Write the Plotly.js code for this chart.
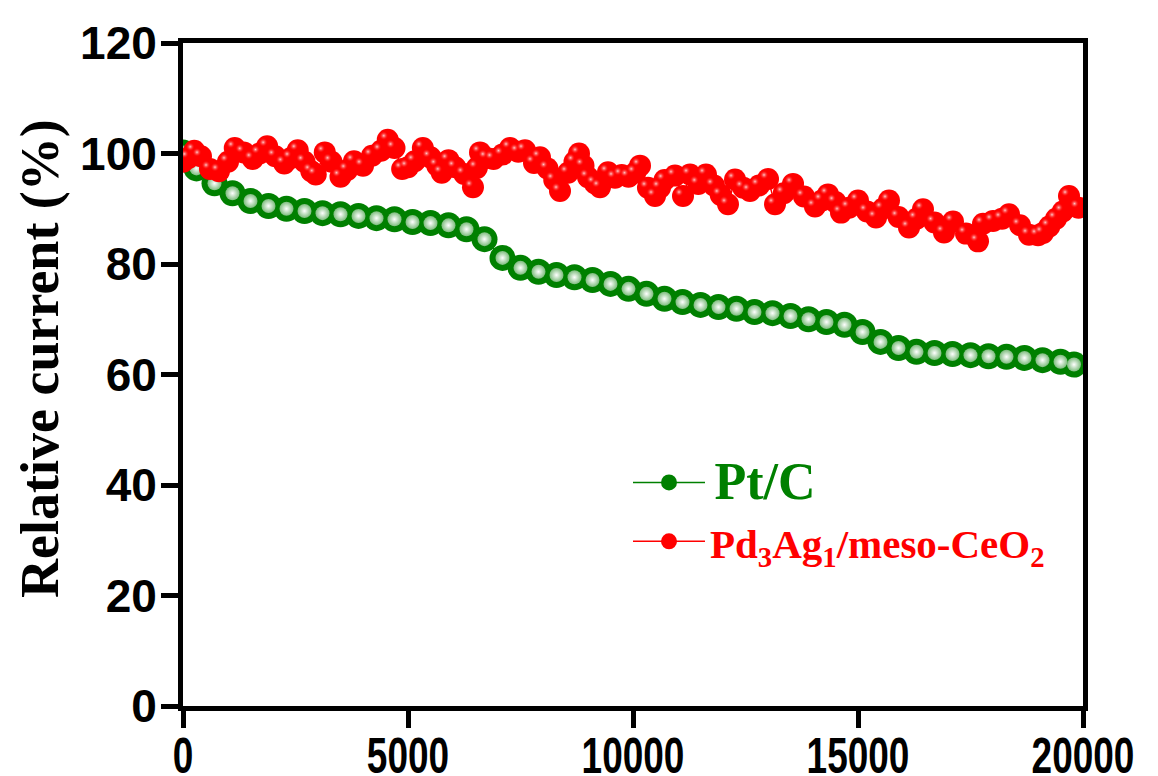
<!DOCTYPE html>
<html>
<head>
<meta charset="utf-8">
<script src="https://cdn.plot.ly/plotly-3.0.1.min.js"></script>
<style>
  html, body { margin: 0; padding: 0; background: #fff; }
  #chart { width: 1158px; height: 776px; }
</style>
</head>
<body>
<div id="chart"></div>
<script>
// ---- data ----
const ptName = 'Pt/C';
const pdName = 'Pd<sub>3</sub>Ag<sub>1</sub>/meso-CeO<sub>2</sub>';

const ptX = [0, 300, 700, 1100, 1500, 1900, 2300, 2700, 3100, 3500, 3900, 4300, 4700, 5100, 5500, 5900, 6300, 6700, 7100, 7500, 7900, 8300, 8700, 9100, 9500, 9900, 10300, 10700, 11100, 11500, 11900, 12300, 12700, 13100, 13500, 13900, 14300, 14700, 15100, 15500, 15900, 16300, 16700, 17100, 17500, 17900, 18300, 18700, 19100, 19500, 19800];
const ptY = [100.2, 97.3, 94.6, 92.8, 91.4, 90.5, 90.0, 89.6, 89.2, 89.0, 88.7, 88.3, 88.1, 87.6, 87.4, 87.0, 86.3, 84.5, 81.1, 79.3, 78.6, 78.0, 77.6, 77.1, 76.4, 75.5, 74.6, 73.7, 73.1, 72.6, 72.2, 71.9, 71.3, 71.1, 70.6, 70.0, 69.5, 69.0, 67.7, 65.9, 64.8, 64.1, 63.9, 63.7, 63.5, 63.3, 63.2, 63.0, 62.6, 62.3, 61.8];

const pdX = [0, 120, 250, 400, 600, 800, 1000, 1150, 1350, 1550, 1700, 1870, 2050, 2250, 2400, 2550, 2700, 2850, 2950, 3150, 3300, 3500, 3650, 3800, 4000, 4200, 4400, 4550, 4700, 4870, 5000, 5150, 5330, 5500, 5650, 5750, 5900, 6050, 6250, 6444, 6530, 6600, 6750, 6900, 7100, 7267, 7450, 7600, 7800, 7933, 8100, 8250, 8378, 8556, 8700, 8800, 8900, 9000, 9150, 9267, 9444, 9600, 9750, 9900, 10050, 10156, 10333, 10489, 10600, 10700, 10933, 11111, 11267, 11450, 11622, 11800, 11950, 12111, 12267, 12450, 12600, 12800, 13000, 13156, 13350, 13556, 13800, 14044, 14200, 14333, 14500, 14622, 14800, 15000, 15200, 15400, 15550, 15689, 15900, 16133, 16300, 16444, 16700, 16911, 17111, 17400, 17667, 17778, 18000, 18200, 18356, 18600, 18800, 19000, 19111, 19250, 19400, 19550, 19689, 19900];
const pdY = [98.5, 99.2, 100.5, 99.5, 97.2, 96.8, 98.5, 101.0, 100.2, 99.0, 100.0, 101.3, 99.5, 98.2, 99.2, 100.6, 98.5, 96.8, 96.2, 100.2, 98.5, 95.8, 97.0, 98.6, 97.8, 99.6, 100.5, 102.5, 101.0, 97.2, 97.5, 98.6, 101.0, 99.3, 97.8, 96.5, 98.8, 97.5, 96.3, 93.9, 97.4, 100.2, 99.2, 99.0, 99.8, 101.0, 100.3, 100.6, 98.3, 99.3, 97.3, 95.2, 93.2, 96.5, 98.5, 100.0, 97.8, 95.7, 94.6, 93.9, 96.6, 95.6, 96.1, 95.8, 96.5, 97.8, 93.8, 92.3, 93.8, 95.2, 96.0, 92.3, 96.2, 94.5, 96.2, 94.2, 92.5, 90.8, 95.3, 93.8, 93.2, 94.2, 95.4, 90.8, 92.8, 94.5, 92.2, 90.4, 91.5, 92.6, 91.2, 89.3, 90.2, 91.5, 89.5, 88.4, 90.0, 91.5, 88.5, 86.6, 88.2, 89.9, 87.5, 85.7, 87.7, 85.5, 84.1, 87.3, 87.8, 88.2, 89.0, 87.0, 85.3, 85.2, 85.6, 86.8, 88.2, 89.5, 92.3, 90.2];

const xTickVals = [0, 5000, 10000, 15000, 20000];
const xTickText = ['0', '5000', '10000', '15000', '20000'];
const yTickVals = [0, 20, 40, 60, 80, 100, 120];
const yTickText = ['0', '20', '40', '60', '80', '100', '120'];
const yTitle = 'Relative current (%)';

// ---- layout geometry ----
const W = 1158, H = 776;
const M = {l: 183, r: 75, t: 43, b: 70};
const plotW = W - M.l - M.r, plotH = H - M.t - M.b;
const xRange = [0, 20000], yRange = [0, 120];
// highlight offset (pixels up-left) applied through a shifted axis range
const hx = 4 * (xRange[1] - xRange[0]) / plotW;
const hy = 4 * (yRange[1] - yRange[0]) / plotH;

const GREEN = '#008000', RED = '#ff0000';

const traces = [
  {
    x: ptX, y: ptY,
    name: '<span style="font-size:22px">\u2009</span><span style="color:' + GREEN + ';font-size:52px">' + ptName + '</span>',
    type: 'scatter', mode: 'lines+markers',
    line: {color: GREEN, width: 1.5},
    marker: {color: GREEN, size: 26, line: {width: 0}},
    hoverinfo: 'skip'
  },
  {
    x: ptX, y: ptY, showlegend: false, type: 'scatter', mode: 'markers',
    marker: {color: 'rgb(125,188,125)', size: 14, line: {width: 0},
             gradient: {type: 'radial', color: '#ffffff'}},
    hoverinfo: 'skip'
  },
  {
    x: pdX, y: pdY, name: '<span style="color:' + RED + ';font-size:41px">' + pdName + '</span>',
    type: 'scatter', mode: 'lines+markers',
    line: {color: RED, width: 1.5},
    marker: {color: RED, size: 22, line: {width: 0}},
    hoverinfo: 'skip'
  },
  {
    x: pdX, y: pdY, showlegend: false, type: 'scatter', mode: 'markers',
    xaxis: 'x2', yaxis: 'y2',
    marker: {color: 'rgba(255,0,0,0)', size: 9, line: {width: 0},
             gradient: {type: 'radial', color: 'rgba(255,225,225,0.9)'}},
    hoverinfo: 'skip'
  }
];

const tickFontY = {family: '"Liberation Sans", Arial, sans-serif', size: 46, color: '#000', weight: 'bold'};
const tickFontX = {family: '"Liberation Sans", Arial, sans-serif', size: 50, color: '#000', weight: 'bold'};

const layout = {
  width: W, height: H,
  margin: M,
  paper_bgcolor: '#ffffff', plot_bgcolor: 'rgba(0,0,0,0)',
  showlegend: true,
  legend: {
    x: (628 - M.l) / plotW, xanchor: 'left',
    y: (706 - 448) / plotH, yanchor: 'top',
    bgcolor: 'rgba(0,0,0,0)', borderwidth: 0,
    font: {family: '"Liberation Serif", "Times New Roman", serif', size: 43, weight: 'bold', color: '#000'},
    itemwidth: 72, itemsizing: 'trace', tracegroupgap: 0
  },
  xaxis: {
    range: xRange, showgrid: false, zeroline: false,
    showline: true, linecolor: '#000', linewidth: 5, mirror: true,
    ticks: 'outside', ticklen: 17, tickwidth: 5, tickcolor: '#000',
    tickvals: xTickVals, ticktext: xTickText, tickfont: tickFontX,
    ticklabelstandoff: -15
  },
  yaxis: {
    range: yRange, showgrid: false, zeroline: false,
    showline: true, linecolor: '#000', linewidth: 5, mirror: true,
    ticks: 'outside', ticklen: 17, tickwidth: 5, tickcolor: '#000',
    tickvals: yTickVals, ticktext: yTickText, tickfont: tickFontY,
    ticklabelstandoff: -5
  },
  xaxis2: {range: [xRange[0] + hx, xRange[1] + hx], visible: false, anchor: 'y2', domain: [0, 1]},
  yaxis2: {range: [yRange[0] - hy, yRange[1] - hy], visible: false, anchor: 'x2', domain: [0, 1]},
  annotations: [{
    text: '<b>' + yTitle + '</b>', textangle: -90,
    xref: 'paper', yref: 'paper',
    x: (40 - M.l) / plotW, y: (706 - 359) / plotH,
    xanchor: 'center', yanchor: 'middle', showarrow: false,
    font: {family: '"Liberation Serif", "Times New Roman", serif', size: 54, color: '#000'}
  }]
};

Plotly.newPlot('chart', traces, layout, {displayModeBar: false, staticPlot: true}).then(function (gd) {
  // the reference uses horizontally condensed digits on the x axis
  gd.querySelectorAll('.xtick text').forEach(function (t) {
    const bb = t.getBBox();
    const cx = bb.x + bb.width / 2;
    const tr = t.getAttribute('transform') || '';
    t.setAttribute('transform', tr + ' translate(' + cx + ',0) scale(0.74,1) translate(' + (-cx) + ',0)');
  });
});
</script>
</body>
</html>
